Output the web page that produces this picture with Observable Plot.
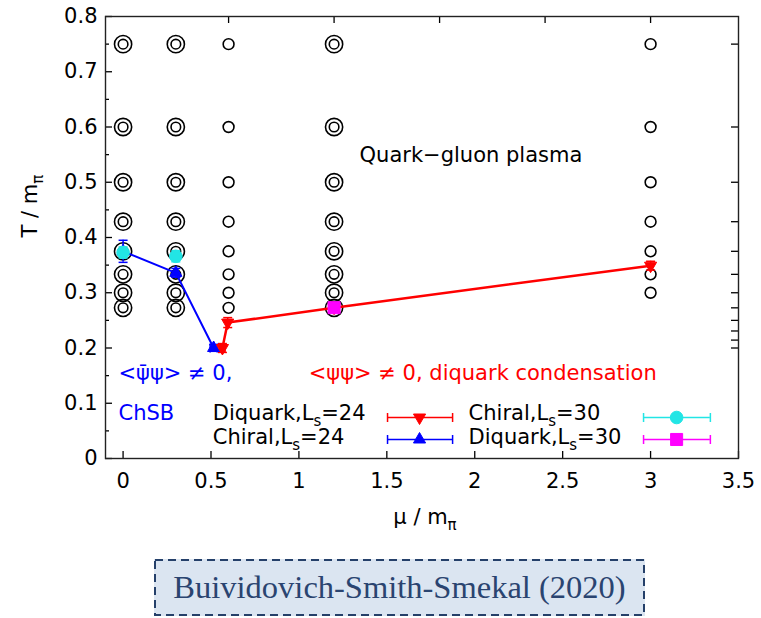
<!DOCTYPE html>
<html><head><meta charset="utf-8">
<script src="https://cdn.jsdelivr.net/npm/d3@7"></script>
<script src="https://cdn.jsdelivr.net/npm/@observablehq/plot@0.6"></script>
<style>
html,body{margin:0;padding:0;background:#fff;width:761px;height:618px;overflow:hidden;}
body{position:relative;}
#chart{position:absolute;left:0;top:0;}
#caption{position:absolute;left:154px;top:559px;width:491px;height:57px;background:#dbe5f1;}
#caption svg{position:absolute;left:0;top:0;}
#caption div{position:absolute;left:0;top:0;width:491px;height:57px;display:flex;align-items:center;justify-content:center;
  font-family:"Liberation Serif","Times New Roman",serif;font-size:32.5px;color:#2a4470;}
</style></head><body>
<div id="chart"></div>
<div id="caption"><svg width="491" height="57"><rect x="1" y="1" width="489" height="55" fill="none" stroke="#25406a" stroke-width="2" stroke-dasharray="8,5"/></svg><div>Buividovich-Smith-Smekal (2020)</div></div>
<script>
// ---- tick values ----
const xTicks = [0, 0.5, 1, 1.5, 2, 2.5, 3, 3.5];
const yTicks = [0, 0.1, 0.2, 0.3, 0.4, 0.5, 0.6, 0.7, 0.8];
const yMinorTicks = [0.05, 0.15, 0.25, 0.35, 0.45, 0.55, 0.65, 0.75];
const topTicks = [0.6, 1.2, 1.8, 2.4, 3.0];
const rightTicks = [0.75, 0.6, 0.5, 0.4286, 0.375, 0.3333, 0.3, 0.2727, 0.25, 0.2308, 0.2143, 0.2];

// ---- simulation grid (open circles) ----
const simMu = [0, 0.3, 0.6, 1.2, 3.0];
const simRings = [2, 2, 1, 2, 1];
const simT = [
  [0.75, 0.6, 0.5, 0.4286, 0.375, 0.3333, 0.3, 0.2727],
  [0.75, 0.6, 0.5, 0.4286, 0.375, 0.3333, 0.3, 0.2727],
  [0.75, 0.6, 0.5, 0.4286, 0.375, 0.3333, 0.3, 0.2727],
  [0.75, 0.6, 0.5, 0.4286, 0.375, 0.3333, 0.3, 0.2727],
  [0.75, 0.6, 0.5, 0.4286, 0.375, 0.3333, 0.3]
];

// ---- transition points ----
const chiral24 = [
  {mu: 0, T: 0.375, dMu: 0, dT: 0.02},
  {mu: 0.3, T: 0.336, dMu: 0, dT: 0.008},
  {mu: 0.515, T: 0.2, dMu: 0.02, dT: 0.006}
];
const diquark24 = [
  {mu: 0.565, T: 0.2, dMu: 0.015, dT: 0.008},
  {mu: 0.595, T: 0.246, dMu: 0, dT: 0.009},
  {mu: 1.2, T: 0.273, dMu: 0, dT: 0.004},
  {mu: 3.0, T: 0.349, dMu: 0, dT: 0.008}
];
const chiral30 = [
  {mu: 0, T: 0.373, dMu: 0, dT: 0.01},
  {mu: 0.3, T: 0.366, dMu: 0, dT: 0.01}
];
const diquark30 = [
  {mu: 1.2, T: 0.273, dMu: 0, dT: 0.003}
];

// ---- texts ----
const regionLabels = ["Quark−gluon plasma", "<ψ̄ψ> ≠ 0,", "ChSB", "<ψψ> ≠ 0, diquark condensation"];
const legendLabels = ["Diquark,L_s=24", "Chiral,L_s=24", "Chiral,L_s=30", "Diquark,L_s=30"];
const xLabel = "μ / m_π";
const yLabel = "T / m_π";

const BLUE = "#0000ff", RED = "#ff0000", CYAN = "#22e5e5", MAGENTA = "#ff00ff";

const W = 761, H = 540, mL = 105, mR = 23, mT = 16, mB = 82;
const iW = W - mL - mR, iH = H - mT - mB;
const FS = 21;

const hcap = {draw(ctx, size) { const w = Math.sqrt(size / Math.PI); ctx.moveTo(-w, 0); ctx.lineTo(w, 0); }};
const vcap = {draw(ctx, size) { const w = Math.sqrt(size / Math.PI); ctx.moveTo(0, -w); ctx.lineTo(0, w); }};

function errMarks(data, color) {
  const v = data.filter(d => d.dT > 0), h = data.filter(d => d.dMu > 0);
  const s = {stroke: color, strokeWidth: 1.5, fill: "none"};
  return [
    Plot.ruleX(v, {x: "mu", y1: d => d.T - d.dT, y2: d => d.T + d.dT, ...s}),
    Plot.dot(v, {x: "mu", y: d => d.T - d.dT, symbol: hcap, r: 4.5, ...s}),
    Plot.dot(v, {x: "mu", y: d => d.T + d.dT, symbol: hcap, r: 4.5, ...s}),
    Plot.ruleY(h, {y: "T", x1: d => d.mu - d.dMu, x2: d => d.mu + d.dMu, ...s}),
    Plot.dot(h, {x: d => d.mu - d.dMu, y: "T", symbol: vcap, r: 4.5, ...s}),
    Plot.dot(h, {x: d => d.mu + d.dMu, y: "T", symbol: vcap, r: 4.5, ...s})
  ];
}

const simPts = simMu.flatMap((mu, i) => simT[i].map(T => ({mu, T, rings: simRings[i]})));

// legend layout (data coordinates inside the frame)
const legendCol = [{text: 0.51, x1: 1.504, x2: 1.874, m: 1.686}, {text: 1.965, x1: 2.96, x2: 3.34, m: 3.148}];
const legendRowText = [0.0814, 0.038], legendRowLine = [0.0742, 0.0344];
const legendStyle = [
  {color: RED, symbol: "triangle", rotate: 180, r: 4.5},
  {color: BLUE, symbol: "triangle", rotate: 0, r: 4.5},
  {color: CYAN, symbol: "circle", rotate: 0, r: 6.3},
  {color: MAGENTA, symbol: "square", rotate: 0, r: 6.8}
];
const legend = legendLabels.map((label, i) => {
  const c = legendCol[Math.floor(i / 2)], r = i % 2;
  return {label, ...legendStyle[i], tx: c.text, ty: legendRowText[r], x1: c.x1, x2: c.x2, xm: c.m, y: legendRowLine[r]};
});

const legendMarks = legend.flatMap(d => {
  const s = {stroke: d.color, strokeWidth: 1.5, fill: "none"};
  return [
    Plot.ruleY([d], {y: "y", x1: "x1", x2: "x2", ...s}),
    Plot.dot([d], {x: "x1", y: "y", symbol: vcap, r: 4.5, ...s}),
    Plot.dot([d], {x: "x2", y: "y", symbol: vcap, r: 4.5, ...s}),
    Plot.dot([d], {x: "xm", y: "y", symbol: d.symbol, rotate: d.rotate, r: d.r, fill: d.color, stroke: d.color, strokeWidth: 1}),
    Plot.text([d], {x: "tx", y: "ty", text: "label", textAnchor: "start", fill: "#000", fontSize: FS})
  ];
});

const chart = Plot.plot({
  width: W, height: H,
  marginLeft: mL, marginRight: mR, marginTop: mT, marginBottom: mB,
  x: {domain: [-0.1, 3.5]},
  y: {domain: [0, 0.8]},
  style: {fontFamily: "'DejaVu Sans', sans-serif", fontSize: FS + "px", color: "#000", background: "#fff"},
  marks: [
    Plot.axisX({ticks: xTicks, tickSize: 0, tickPadding: 15, tickFormat: d => String(d), label: null, fontSize: FS}),
    Plot.axisY({ticks: yTicks, tickSize: 0, tickPadding: 8, tickFormat: d3.format("~g"), label: null, fontSize: FS}),
    Plot.tickX(xTicks, {x: d => d, insetTop: iH - 7, stroke: "#000", strokeWidth: 1.3}),
    Plot.tickX(topTicks, {x: d => d, insetBottom: iH - 7, stroke: "#000", strokeWidth: 1.3}),
    Plot.tickY(yTicks, {y: d => d, insetRight: iW - 7, stroke: "#000", strokeWidth: 1.3}),
    Plot.tickY(yMinorTicks, {y: d => d, insetRight: iW - 4, stroke: "#000", strokeWidth: 1.3}),
    Plot.tickY(rightTicks, {y: d => d, insetLeft: iW - 7, stroke: "#000", strokeWidth: 1.3}),
    Plot.frame({stroke: "#222", strokeWidth: 1.4}),
    // open circles
    Plot.dot(simPts.filter(d => d.rings === 2), {x: "mu", y: "T", r: 8.6, stroke: "#000", strokeWidth: 1.6, fill: "none"}),
    Plot.dot(simPts.filter(d => d.rings === 2), {x: "mu", y: "T", r: 4.8, stroke: "#000", strokeWidth: 1.6, fill: "none"}),
    Plot.dot(simPts.filter(d => d.rings === 1), {x: "mu", y: "T", r: 5.4, stroke: "#000", strokeWidth: 1.6, fill: "none"}),
    // lines
    Plot.line(chiral24, {x: "mu", y: "T", stroke: BLUE, strokeWidth: 2}),
    Plot.line(diquark24, {x: "mu", y: "T", stroke: RED, strokeWidth: 2.5}),
    ...errMarks(chiral24, BLUE),
    ...errMarks(diquark24, RED),
    Plot.dot(chiral24, {x: "mu", y: "T", symbol: "triangle", r: 4.5, fill: BLUE, stroke: BLUE, strokeWidth: 1}),
    Plot.dot(diquark24, {x: "mu", y: "T", symbol: "triangle", rotate: 180, r: 4.5, fill: RED, stroke: RED, strokeWidth: 1}),
    ...errMarks(chiral30, CYAN),
    ...errMarks(diquark30, MAGENTA),
    Plot.dot(chiral30, {x: "mu", y: "T", symbol: "circle", r: 6.3, fill: CYAN, stroke: CYAN, strokeWidth: 1}),
    Plot.dot(diquark30, {x: "mu", y: "T", symbol: "square", r: 6.8, fill: MAGENTA, stroke: MAGENTA, strokeWidth: 1}),
    // region labels
    Plot.text([regionLabels[0]], {x: 1.345, y: 0.548, text: d => d, textAnchor: "start", fill: "#000", fontSize: FS}),
    Plot.text([regionLabels[1]], {x: -0.026, y: 0.154, text: d => d, textAnchor: "start", fill: BLUE, fontSize: FS}),
    Plot.text([regionLabels[2]], {x: -0.026, y: 0.081, text: d => d, textAnchor: "start", fill: BLUE, fontSize: FS}),
    Plot.text([regionLabels[3]], {x: 1.056, y: 0.154, text: d => d, textAnchor: "start", fill: RED, fontSize: FS}),
    ...legendMarks,
    // axis titles
    Plot.text([yLabel], {frameAnchor: "left", dx: -75, rotate: -90, text: d => d, fill: "#000", fontSize: FS}),
    Plot.text([xLabel], {frameAnchor: "bottom", dy: 65, dx: 3, text: d => d, fill: "#000", fontSize: FS})
  ]
});

// subscripts: "_x" -> subscript x
chart.querySelectorAll("text").forEach(t => {
  const s = t.textContent;
  const m = s.match(/^(.*)_(.)(.*)$/);
  if (!m) return;
  while (t.firstChild) t.removeChild(t.firstChild);
  const ns = "http://www.w3.org/2000/svg";
  const a = document.createElementNS(ns, "tspan"); a.textContent = m[1]; t.appendChild(a);
  const b = document.createElementNS(ns, "tspan"); b.textContent = m[2]; b.setAttribute("dy", "6"); b.setAttribute("font-size", "15"); t.appendChild(b);
  if (m[3]) { const c = document.createElementNS(ns, "tspan"); c.textContent = m[3]; c.setAttribute("dy", "-6"); t.appendChild(c); }
});

document.getElementById("chart").appendChild(chart);
</script></body></html>
